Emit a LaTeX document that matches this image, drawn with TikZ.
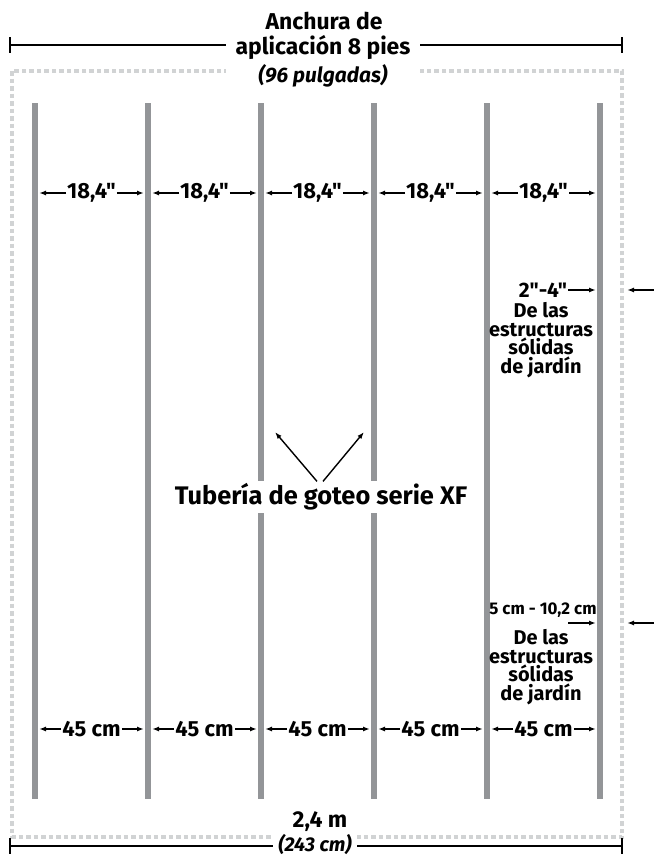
\documentclass[tikz,border=0pt]{standalone}
\usepackage{fontspec}
\setmainfont{Fira Sans}[Ligatures=TeXOff]
\usetikzlibrary{arrows.meta, positioning, calc}
\definecolor{pipegray}{HTML}{939598}
\definecolor{edgegray}{HTML}{D1D3D4}

\begin{document}
\begin{tikzpicture}[
    x=1bp, y=-1bp,
    >={Latex[length=7bp, width=5bp]},
    pipe/.style={line width=6bp, color=pipegray},
    edge/.style={line width=3.5bp, color=edgegray, dash pattern=on 4.5bp off 3bp},
    dim/.style={line width=1.6bp, color=black},
    arrow/.style={->, line width=1.4bp, shorten >=4bp},
    lbl/.style={font=\bfseries\fontsize{22}{22}\selectfont, inner sep=1bp},
    note/.style={font=\bfseries\fontsize{20}{18.5}\selectfont, align=center, inner sep=0bp},
    title/.style={font=\bfseries\fontsize{23}{24}\selectfont, fill=white, inner ysep=1bp, inner xsep=8bp},
    sub/.style={font=\bfseries\itshape\fontsize{21}{22}\selectfont, fill=white, inner ysep=0bp}
]
\useasboundingbox (0,0) rectangle (654,857);

% === Garden bed outline ===
\draw[edge] (12,71) rectangle (622,837);

% === Drip lines ===
\foreach \i/\x in {1/35, 2/148, 3/261, 4/374, 5/487, 6/600} {
    \coordinate (top\i) at (\x,103);
    \coordinate (bot\i) at (\x,799);
    \draw[pipe] (top\i) -- (bot\i);
}

% === Row spacing (inches and cm) ===
\foreach \i/\j in {1/2, 2/3, 3/4, 4/5, 5/6} {
    \node[lbl] (inch\i) at ($(top\i)!0.5!(top\j) + (0,90)$) {18,4"};
    \draw[arrow] (inch\i.west) -- (inch\i.west -| top\i);
    \draw[arrow] (inch\i.east) -- (inch\i.east -| top\j);
    \node[lbl] (cm\i) at ($(bot\i)!0.5!(bot\j) + (0,-70)$) {45 cm};
    \draw[arrow] (cm\i.west) -- (cm\i.west -| bot\i);
    \draw[arrow] (cm\i.east) -- (cm\i.east -| bot\j);
}

% === Distance from solid structures (upper) ===
\node[lbl, font=\bfseries\fontsize{21}{22}\selectfont] (gapin) at (543,290) {2"-4"};
\draw[arrow] (gapin.east) -- (gapin.east -| top6);
\node[note] (solidin) at (541,340) {De las\\estructuras\\sólidas\\de jardín};
\coordinate (wallin) at (654,290);
\coordinate (wallinend) at (627,290);
\draw[->, line width=1.4bp] (wallin) -- (wallinend);

% === Distance from solid structures (lower) ===
\node[lbl, font=\bfseries\fontsize{17}{18}\selectfont] (gapcm) at (543,610) {5 cm - 10,2 cm};
\coordinate (gapcmtail) at (568,623);
\draw[arrow] (gapcmtail) -- (gapcmtail -| top6);
\node[note] (solidcm) at (541,667) {De las\\estructuras\\sólidas\\de jardín};
\coordinate (wallcm) at (654,623);
\coordinate (wallcmend) at (627,623);
\draw[->, line width=1.4bp] (wallcm) -- (wallcmend);

% === Drip line callout ===
\node[font=\bfseries\fontsize{25.5}{27}\selectfont, fill=white, inner xsep=4bp, inner ysep=3bp] (xf) at (321,497) {Tubería de goteo serie XF};
\coordinate (xfleft) at (275,432);
\coordinate (xfright) at (364,432);
\draw[->, line width=1.4bp] ($(xf.north)+(-4,1)$) -- (xfleft);
\draw[->, line width=1.4bp] ($(xf.north)+(2,1)$) -- (xfright);

% === Application width (top) ===
\coordinate (wl) at (10,45);
\coordinate (wr) at (622,45);
\draw[dim] (wl) -- (wr);
\draw[dim] ($(wl)+(0,-8)$) -- ($(wl)+(0,8)$);
\draw[dim] ($(wr)+(0,-8)$) -- ($(wr)+(0,8)$);
\node[title, inner xsep=10bp] (width) at (323,47) {aplicación 8 pies};
\node[title, fill=none] (widthtop) at (324,21) {Anchura de};
\node[sub, minimum width=194bp] (widthin) at (323,76) {(96 pulgadas)};

% === Total width (bottom) ===
\coordinate (bl) at (10,846);
\coordinate (br) at (622,846);
\draw[dim] (bl) -- (br);
\draw[dim] ($(bl)+(0,-8)$) -- ($(bl)+(0,8)$);
\draw[dim] ($(br)+(0,-8)$) -- ($(br)+(0,8)$);
\node[title, inner xsep=28bp] (total) at (320,822) {2,4 m};
\node[sub, inner xsep=5bp, font=\bfseries\itshape\fontsize{20}{20}\selectfont] (totalcm) at (315,845) {(243 cm)};

\end{tikzpicture}
\end{document}
